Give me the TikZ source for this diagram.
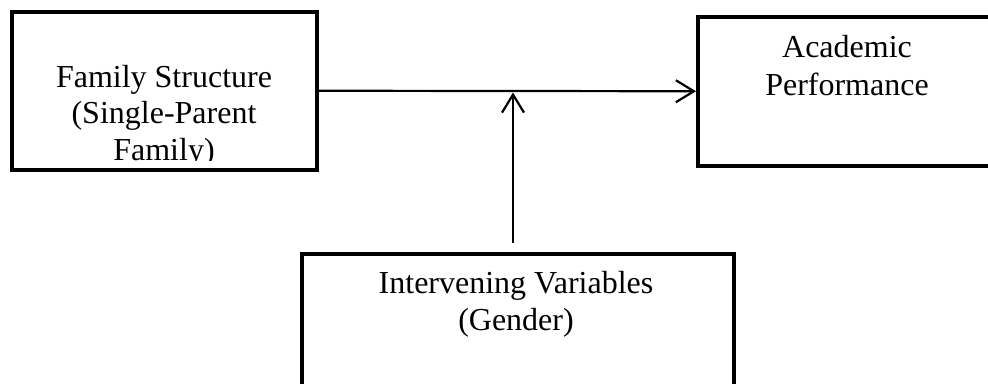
\documentclass[tikz,border=0pt]{standalone}
\usepackage{fontspec}
\setmainfont{Liberation Serif}
\usetikzlibrary{arrows.meta}
\begin{document}
\begin{tikzpicture}[x=1pt,y=-1pt,
  box/.style={draw=black,line width=4pt,rectangle,inner sep=0pt},
  txt/.style={anchor=base,inner sep=0pt,font=\fontsize{32}{36}\selectfont},
  arr/.style={draw=black,line width=2.2pt,-{Straight Barb[length=18pt,width=22pt]}}]
\useasboundingbox (0,0) rectangle (988,383);
\clip (0,0) rectangle (988,383);
% boxes
\node[box,minimum width=305pt,minimum height=158.5pt] (fam) at (164.5,90.75) {};
\node[box,minimum width=402pt,minimum height=148.5pt] (acad) at (899,91.25) {};
\node[box,minimum width=432pt,minimum height=246pt] (int) at (518,377) {};
% texts
\begin{scope}
\clip (14,14) rectangle (315,160.5);
\node[txt] (f1) at (164,87.5) {Family Structure};
\node[txt] (f2) at (164,123.3) {(Single-Parent};
\node[txt] (f3) at (164,160) {Family)};
\end{scope}
\node[txt] (a1) at (847,57) {Academic};
\node[txt] (a2) at (847,95) {Performance};
\node[txt] (i1) at (516,293) {Intervening Variables};
\node[txt] (i2) at (516,330.7) {(Gender)};
% connectors
\coordinate (vb) at (513,243);
\coordinate (vt) at (513,92.5);
\draw[arr] (fam.east) -- (acad.west);
\draw[arr] (vb) -- (vt);
\end{tikzpicture}
\end{document}
